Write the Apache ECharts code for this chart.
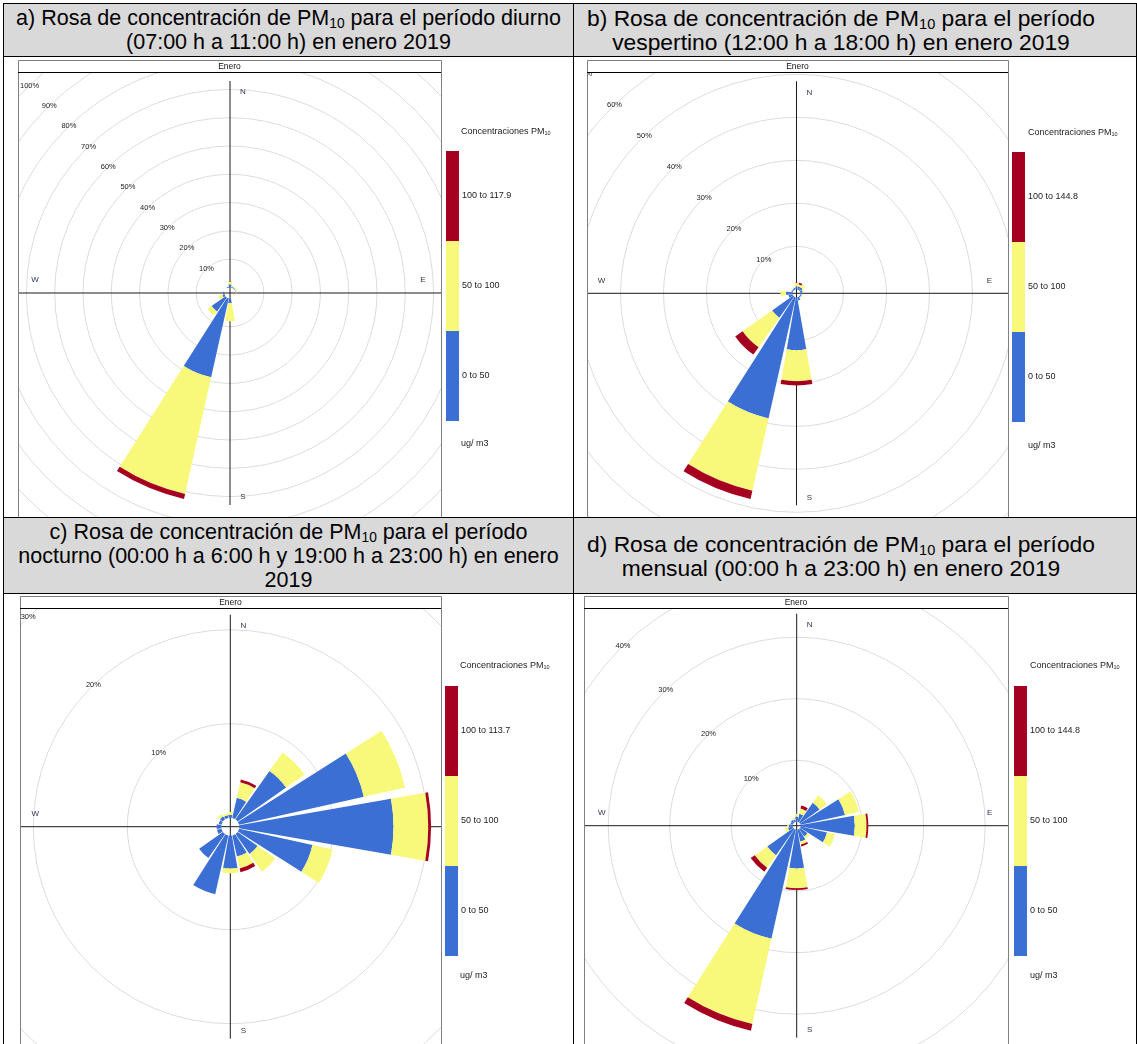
<!DOCTYPE html>
<html><head><meta charset="utf-8">
<script src="https://cdn.jsdelivr.net/npm/echarts@6/dist/echarts.min.js"></script>
<style>
body{margin:0;background:#fff;font-family:"Liberation Sans",Arial,sans-serif;}
#page{position:relative;width:1137px;height:1044px;overflow:hidden;background:#fff;}
.hdr{position:absolute;background:#d9d9d9;color:#000;display:flex;align-items:center;justify-content:center;box-sizing:border-box;}
.hdr > div{line-height:24px;text-align:center;white-space:nowrap;}
.hl > div{font-size:21.5px;}
.hr{padding-right:28px;}
.hr > div{font-size:22.8px;}
.hdr sub{font-size:0.64em;vertical-align:-3px;line-height:0;}
.ln{position:absolute;background:#000;}
.ch{position:absolute;}
</style></head>
<body>
<div id="page">
  <div class="hdr hl" style="left:4px;top:4px;width:569px;height:52px;"><div>a) Rosa de concentración de PM<sub>10</sub> para el período diurno<br>(07:00 h a 11:00 h) en enero 2019</div></div>
  <div class="hdr hr" style="left:574px;top:4px;width:562px;height:52px;"><div>b) Rosa de concentración de PM<sub>10</sub> para el período<br>vespertino (12:00 h a 18:00 h) en enero 2019</div></div>
  <div class="hdr hl" style="left:4px;top:518px;width:569px;height:75px;"><div>c) Rosa de concentración de PM<sub>10</sub> para el período<br>nocturno (00:00 h a 6:00 h y 19:00 h a 23:00 h) en enero<br>2019</div></div>
  <div class="hdr hr" style="left:574px;top:518px;width:562px;height:75px;"><div>d) Rosa de concentración de PM<sub>10</sub> para el período<br>mensual (00:00 h a 23:00 h) en enero 2019</div></div>
  <div id="ca" class="ch" style="left:4px;top:57px;width:569px;height:460px;"></div>
  <div id="cb" class="ch" style="left:574px;top:57px;width:562px;height:460px;"></div>
  <div id="cc" class="ch" style="left:4px;top:594px;width:569px;height:450px;"></div>
  <div id="cd" class="ch" style="left:574px;top:594px;width:562px;height:450px;"></div>
  <div class="ln" style="left:3px;top:3px;width:1134px;height:1px;"></div>
  <div class="ln" style="left:3px;top:3px;width:1px;height:1041px;"></div>
  <div class="ln" style="left:1136px;top:3px;width:1px;height:1041px;"></div>
  <div class="ln" style="left:573px;top:3px;width:1px;height:1041px;"></div>
  <div class="ln" style="left:3px;top:56px;width:1134px;height:1px;"></div>
  <div class="ln" style="left:3px;top:517px;width:1134px;height:1px;"></div>
  <div class="ln" style="left:3px;top:593px;width:1134px;height:1px;"></div>
</div>
<script>
// ---------- DATA ----------
const directions = ['N','NNE','NE','ENE','E','ESE','SE','SSE','S','SSW','SW','WSW','W','WNW','NW','NNW'];
const ringStep = 10;

const aBlue   = [1.1, 0.3, 0.3, 0.2, 0.1, 0, 0, 0, 1.6, 28.6, 6.0, 0.8, 0.5, 0, 0, 0.3];
const aYellow = [1.0, 0.4, 0.4, 0.4, 0.2, 0, 0, 0, 6.4, 42.2, 1.8, 1.5, 0, 0, 0, 0];
const aRed    = [0, 0, 0, 0, 0, 0, 0, 0, 0, 1.8, 0, 0, 0, 0, 0, 0];
const aClasses = ['100 to 117.9', '50 to 100', '0 to 50'];

const bBlue   = [0.7, 0.7, 0.8, 0.5, 0.4, 0.3, 0.3, 0.8, 12.3, 28.9, 6.0, 1.0, 1.5, 0.3, 0.3, 0.4];
const bYellow = [0.8, 0.5, 0.8, 0.4, 0, 0, 0.3, 0, 7.2, 17.2, 8.4, 0, 1.3, 0, 0, 0.3];
const bRed    = [0, 0.4, 0, 0, 0, 0, 0, 0, 1.0, 2.0, 2.1, 0, 0, 0, 0, 0];
const bClasses = ['100 to 144.8', '50 to 100', '0 to 50'];

const cBlue   = [0.3, 2.2, 6.3, 13.6, 16.4, 8.0, 2.6, 2.3, 3.5, 6.4, 3.1, 0.5, 0.5, 0.3, 0.4, 0.3];
const cYellow = [0.3, 1.7, 2.4, 4.5, 3.7, 2.2, 2.3, 1.3, 0.5, 0, 0, 0, 0, 0, 0.3, 0.2];
const cRed    = [0, 0.3, 0, 0, 0.3, 0, 0, 0.4, 0, 0, 0, 0, 0, 0, 0, 0];
const cClasses = ['100 to 113.7', '50 to 100', '0 to 50'];

const dBlue   = [0.8, 1.35, 3.9, 7.4, 8.8, 4.4, 1.5, 2.0, 6.3, 18.2, 5.2, 0.8, 0.6, 0.4, 0.5, 0.4];
const dYellow = [0.5, 0.85, 1.5, 2.3, 1.9, 1.3, 0.4, 0.5, 3.2, 14.2, 2.5, 0.5, 0.3, 0, 0, 0.3];
const dRed    = [0, 0.5, 0, 0, 0.3, 0, 0, 0.3, 0.3, 1.1, 0.8, 0, 0, 0, 0, 0];
const dClasses = ['100 to 144.8', '50 to 100', '0 to 50'];

const stripLabel = 'Enero';
const unitLabel = 'ug/ m3';
const compass = ['N', 'E', 'S', 'W'];

// ---------- STYLE / LAYOUT ----------
const FONT = '"Liberation Sans", Arial, sans-serif';
const COL = {blue:'#3b6fd3', yellow:'#f8f87a', red:'#a60021'};
const RING = '#dcdcdc';

const panels = [
  {el:'ca', div:[4,57,569,460], frame:[18,60,441,517], center:[230,293], ppu:2.83, off:5.5, max:120, cross:212,
   leg:[446,151], title:[461,133], unit:[461,445], blue:aBlue, yellow:aYellow, red:aRed, names:aClasses},
  {el:'cb', div:[574,57,562,460], frame:[587,60,1008,517], center:[796.5,293.3], ppu:4.3, off:4, max:80, cross:212,
   leg:[1012,152], title:[1028,134], unit:[1028,447], blue:bBlue, yellow:bYellow, red:bRed, names:bClasses},
  {el:'cc', div:[4,594,569,450], frame:[20,596,441,1046], center:[230.3,826.7], ppu:9.4, off:9, max:40, cross:212,
   leg:[445,686], title:[460,667], unit:[460,977], blue:cBlue, yellow:cYellow, red:cRed, names:cClasses},
  {el:'cd', div:[574,594,562,450], frame:[584,596,1008,1046], center:[796.7,825.7], ppu:6.15, off:4, max:50, cross:212,
   leg:[1014,686], title:[1030,667], unit:[1030,977], blue:dBlue, yellow:dYellow, red:dRed, names:dClasses}
];

function hidden(){ return {axisLine:{show:false}, axisTick:{show:false}, axisLabel:{show:false}, splitLine:{show:false}, splitArea:{show:false}}; }

function makeOption(p){
  const W = p.div[2], H = p.div[3];
  const lx = x => x - p.div[0], ly = y => y - p.div[1];
  const cx = lx(p.center[0]), cy = ly(p.center[1]);
  const offU = p.off / p.ppu;
  const R = (p.max + offU) * p.ppu;
  const fx0 = lx(p.frame[0]), fy0 = ly(p.frame[1]), fx1 = lx(p.frame[2]), fy1 = ly(p.frame[3]);
  const stripH = 12;
  const cpos = [[13,-201],[193,-13],[13,204],[-195,-13]];
  // ring colours: the first two ticks (centre and hollow edge) are not drawn
  const ringColors = Array.from({length:40}, (_, i) => i < 2 ? 'rgba(0,0,0,0)' : RING);
  const els = [
    {type:'rect', shape:{x:0,y:0,width:fx0,height:H}, style:{fill:'#fff'}, z:50, silent:true},
    {type:'rect', shape:{x:fx1,y:0,width:W-fx1,height:H}, style:{fill:'#fff'}, z:50, silent:true},
    {type:'rect', shape:{x:0,y:0,width:W,height:fy0+stripH}, style:{fill:'#fff'}, z:50, silent:true},
    {type:'rect', shape:{x:0,y:fy1,width:W,height:Math.max(0,H-fy1)}, style:{fill:'#fff'}, z:50, silent:true},
    {type:'rect', shape:{x:fx0+0.5,y:fy0+0.5,width:fx1-fx0,height:fy1-fy0}, style:{fill:null, stroke:'#808080', lineWidth:1}, z:55, silent:true},
    {type:'line', shape:{x1:fx0,y1:fy0+stripH+0.5,x2:fx1,y2:fy0+stripH+0.5}, style:{stroke:'#000', lineWidth:1}, z:56, silent:true},
    {type:'text', x:(fx0+fx1)/2, y:fy0+stripH/2+1, style:{text:stripLabel, fontSize:8.5, fontFamily:FONT, fill:'#111', align:'center', verticalAlign:'middle', textAlign:'center', textVerticalAlign:'middle'}, z:56, silent:true}
  ];
  compass.forEach((c,i)=>{
    els.push({type:'text', x:cx+cpos[i][0], y:cy+cpos[i][1], style:{text:c, fontSize:8, fontFamily:FONT, fill:'#2a3550', align:'center', verticalAlign:'middle', textAlign:'center', textVerticalAlign:'middle'}, z:1, silent:true});
  });
  const series = [
    {name:p.names[2], data:p.blue, color:COL.blue},
    {name:p.names[1], data:p.yellow, color:COL.yellow},
    {name:p.names[0], data:p.red, color:COL.red}
  ].map(s => ({type:'bar', name:s.name, coordinateSystem:'polar', polarIndex:0, stack:'rose', data:s.data,
      itemStyle:{color:s.color}, barCategoryGap:'12%', silent:true, z:2}));
  return {
    animation:false,
    textStyle:{fontFamily:FONT},
    polar:[{center:[cx,cy], radius:R},{center:[cx,cy], radius:p.cross},{center:[cx,cy], radius:R}],
    angleAxis:[
      Object.assign({polarIndex:0, type:'category', data:directions, startAngle:90+11.25, clockwise:true, boundaryGap:true}, hidden()),
      Object.assign({polarIndex:1, type:'value', min:0, max:360, interval:90, startAngle:90, clockwise:true}, hidden(), {splitLine:{show:true, lineStyle:{color:'#1a1a1a', width:1}}}),
      Object.assign({polarIndex:2, type:'value', min:0, max:360, startAngle:134, clockwise:true}, hidden())
    ],
    radiusAxis:[
      Object.assign({polarIndex:0, type:'value', min:-offU, max:p.max}, hidden()),
      Object.assign({polarIndex:1, type:'value', min:0, max:1}, hidden()),
      Object.assign({polarIndex:2, type:'value', min:-offU, max:p.max, minInterval:ringStep, maxInterval:ringStep}, hidden(), {
        splitLine:{show:true, lineStyle:{color:ringColors, width:1}},
        axisLabel:{show:true, margin:0, align:'center', verticalAlign:'middle', fontSize:7.5, color:'#222', fontFamily:FONT,
          formatter: v => v > 0.001 ? Math.round(v) + '%' : ''}
      })
    ],
    legend:{orient:'vertical', left:lx(p.leg[0]), top:ly(p.leg[1]), itemWidth:13, itemHeight:90, itemGap:0, icon:'rect', padding:0,
      selectedMode:false, data:[p.names[0], p.names[1], p.names[2]], textStyle:{fontSize:9, color:'#222', fontFamily:FONT, padding:[0,0,0,-2]}, z:100},
    title:[
      {text:'{a|Concentraciones PM}{b|10}', left:lx(p.title[0]), top:ly(p.title[1])-6, padding:0, z:100,
        textStyle:{fontWeight:'normal', rich:{a:{fontSize:9, color:'#222', fontFamily:FONT}, b:{fontSize:5.5, color:'#222', fontFamily:FONT, verticalAlign:'bottom'}}}},
      {text:unitLabel, left:lx(p.unit[0]), top:ly(p.unit[1])-6, padding:0, z:100,
        textStyle:{fontWeight:'normal', fontSize:9, color:'#222', fontFamily:FONT}}
    ],
    graphic:{elements:els},
    series
  };
}

panels.forEach(p => {
  const chart = echarts.init(document.getElementById(p.el), null, {renderer:'canvas'});
  chart.setOption(makeOption(p));
});
</script>
</body></html>
